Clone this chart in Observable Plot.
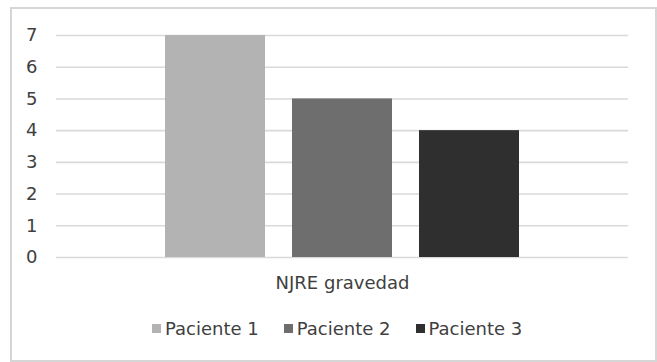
<!DOCTYPE html>
<html>
<head>
<meta charset="utf-8">
<script src="https://cdn.jsdelivr.net/npm/d3@7"></script>
<script src="https://cdn.jsdelivr.net/npm/@observablehq/plot@0.6"></script>
<style>
  html, body { margin: 0; padding: 0; background: #fff; }
  #wrap { position: relative; width: 657px; height: 362px; overflow: hidden; font-family: "DejaVu Sans", sans-serif; }
  #frame { position: absolute; left: 10px; top: 7px; width: 643px; height: 351px; border: 2px solid #d6d6d6; box-sizing: content-box; }
  #chart { position: absolute; left: 0; top: 0; }
  #legend { position: absolute; left: 152px; top: 318px; display: flex; gap: 25px; font-size: 18px; color: #404040; }
  .item { display: flex; align-items: center; }
  .sw { width: 9px; height: 9px; margin-right: 4px; }
</style>
</head>
<body>
<div id="wrap">
  <div id="frame"></div>
  <div id="chart"></div>
  <div id="legend"></div>
</div>
<script>
const categories = ["NJRE gravedad"];
const patients = ["Paciente 1", "Paciente 2", "Paciente 3"];
const values = [7, 5, 4];
const colors = ["#b3b3b3", "#6e6e6e", "#2f2f2f"];
const yTicks = [0, 1, 2, 3, 4, 5, 6, 7];

const data = patients.map((p, i) => ({patient: p, value: values[i], category: categories[0]}));

const chart = Plot.plot({
  width: 657,
  height: 300,
  marginLeft: 56,
  marginRight: 29,
  marginTop: 35,
  marginBottom: 43,
  style: {fontFamily: "DejaVu Sans, sans-serif", fontSize: "18px", color: "#404040", background: "transparent"},
  x: {domain: patients, range: [151.5, 532.5], paddingInner: 0.2126, paddingOuter: 0.1063, axis: null},
  y: {domain: [0, 7], ticks: yTicks, label: null},
  color: {domain: patients, range: colors},
  marks: [
    Plot.ruleY(yTicks, {stroke: "#d9d9d9", strokeWidth: 1.6}),
    Plot.barY(data, {x: "patient", y: "value", fill: "patient"}),
    Plot.axisY({ticks: yTicks, tickFormat: d3.format("d"), tickSize: 0, tickPadding: 19, fontSize: 18, fill: "#404040", label: null}),
    Plot.text(categories, {frameAnchor: "bottom", dy: 31, text: d => d, fontSize: 18, fill: "#404040"})
  ]
});
document.getElementById("chart").appendChild(chart);

const legend = document.getElementById("legend");
patients.forEach((p, i) => {
  const item = document.createElement("div");
  item.className = "item";
  const sw = document.createElement("span");
  sw.className = "sw";
  sw.style.background = colors[i];
  const t = document.createElement("span");
  t.textContent = p;
  item.appendChild(sw);
  item.appendChild(t);
  legend.appendChild(item);
});
</script>
</body>
</html>
